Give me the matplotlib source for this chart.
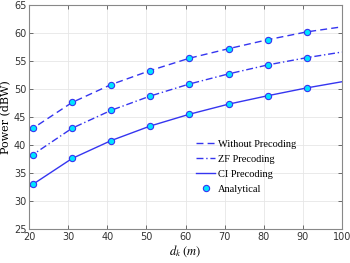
import numpy as np
import matplotlib
matplotlib.use("Agg")
import matplotlib.pyplot as plt
from matplotlib.lines import Line2D

plt.rcParams['mathtext.fontset'] = 'stix'

# distance samples (m)
d_line = [20, 21, 31, 41, 51, 61, 71, 81, 91, 100]
d_pts = [21, 31, 41, 51, 61, 71, 81, 91]

# transmit power (dBW)
p_without = [42.5, 43.0, 47.6, 50.8, 53.3, 55.5, 57.2, 58.8, 60.2, 61.1]
p_zf = [37.8, 38.3, 43.0, 46.2, 48.75, 50.9, 52.7, 54.3, 55.6, 56.6]
p_ci = [32.5, 33.0, 37.6, 40.8, 43.4, 45.5, 47.3, 48.8, 50.2, 51.3]

blue = '#3535f0'
fig, ax = plt.subplots(figsize=(3.5, 2.63), dpi=100)
fig.subplots_adjust(left=0.083, right=0.977, top=0.981, bottom=0.129)

ax.plot(d_line, p_without, '--', color=blue, lw=1.0, dashes=(5, 3), label='Without Precoding')
ax.plot(d_line, p_zf, '-.', color=blue, lw=1.0, dashes=(5, 2, 1, 2), label='ZF Precoding')
ax.plot(d_line, p_ci, '-', color=blue, lw=1.0, label='CI Precoding')
for p in (p_without, p_zf, p_ci):
    ax.plot(d_pts, p[1:-1], 'o', ms=4.5, mfc='#00e5ff', mec=blue, mew=0.8, ls='none')

ax.set_xlim(20, 100)
ax.set_ylim(25, 65)
ax.set_xticks(np.arange(20, 101, 10))
ax.set_yticks(np.arange(25, 66, 5))
ax.grid(True, color='#e6e6e6', lw=0.6)
ax.set_axisbelow(True)
ax.tick_params(direction='in', top=True, right=True, length=3, width=0.6,
               labelsize=7, labelcolor='#333333', color='#555555', pad=2)
for s in ax.spines.values():
    s.set_color('#888888')
    s.set_linewidth(0.8)

ax.set_ylabel('Power (dBW)', family='DejaVu Serif', fontsize=8, labelpad=2)
ax.set_xlabel(r'$d_k\ (m)$', fontsize=9, labelpad=1)

handles, labels = ax.get_legend_handles_labels()
handles.append(Line2D([], [], marker='o', ls='none', ms=4.5, mfc='#00e5ff', mec=blue, mew=0.8))
labels.append('Analytical')
ax.legend(handles, labels, loc='lower right', bbox_to_anchor=(0.875, 0.13), frameon=False,
          prop={'family': 'Liberation Serif', 'size': 7.5}, handlelength=1.8,
          handletextpad=0.3, labelspacing=0.55, borderaxespad=0.2)

plt.savefig('out.png', dpi=100)
